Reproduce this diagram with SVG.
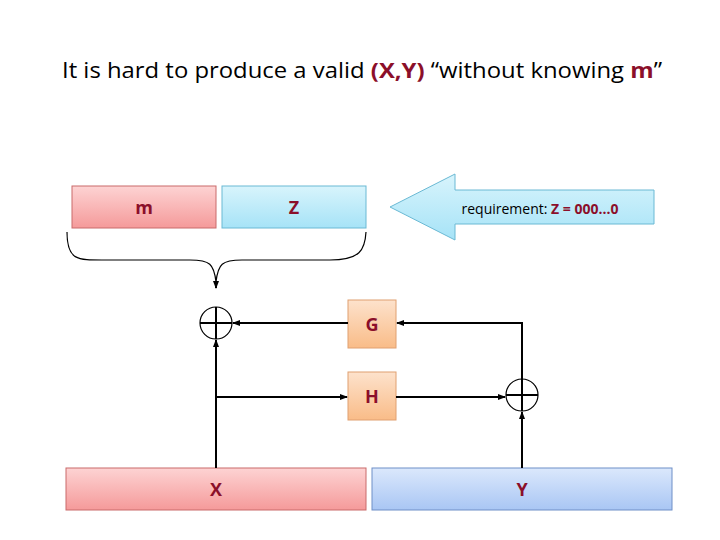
<svg xmlns="http://www.w3.org/2000/svg" width="720" height="540" viewBox="0 0 720 540">
<defs>
<linearGradient id="red" x1="0" y1="0" x2="0" y2="1"><stop offset="0" stop-color="#fdd3d3"/><stop offset="1" stop-color="#f59a9a"/></linearGradient>
<linearGradient id="cyan" x1="0" y1="0" x2="0" y2="1"><stop offset="0" stop-color="#d8f4fc"/><stop offset="1" stop-color="#a6e3f7"/></linearGradient>
<linearGradient id="org" x1="0" y1="0" x2="0" y2="1"><stop offset="0" stop-color="#fde2cc"/><stop offset="1" stop-color="#f9bc88"/></linearGradient>
<linearGradient id="blue" x1="0" y1="0" x2="0" y2="1"><stop offset="0" stop-color="#dbe8fc"/><stop offset="1" stop-color="#a9c6f4"/></linearGradient>
<marker id="ah" markerWidth="8" markerHeight="8" refX="7" refY="4" orient="auto" markerUnits="userSpaceOnUse"><path d="M0,1 L8,4 L0,7 z" fill="#000"/></marker>
</defs>
<style>
text{font-family:"Open Sans","Liberation Sans",sans-serif;}
.lbl{font-size:18px;font-weight:bold;fill:#8b0f2a;text-anchor:middle;}
.ln{stroke:#000;stroke-width:2;fill:none;}
.xor{stroke:#000;stroke-width:1.2;fill:#fff;}
</style>
<rect width="720" height="540" fill="#fff"/>
<text x="62" y="78" font-size="21" textLength="600" lengthAdjust="spacingAndGlyphs" fill="#000">It is hard to produce a valid <tspan font-weight="bold" fill="#8b0f2a">(X,Y)</tspan> “without knowing <tspan font-weight="bold" fill="#8b0f2a">m</tspan>”</text>
<g id="m"><rect x="72" y="186" width="144" height="42" fill="url(#red)" stroke="#c96a6a"/><text class="lbl" x="144" y="214">m</text></g>
<g id="Z"><rect x="222" y="186" width="144" height="42" fill="url(#cyan)" stroke="#6ab9d4"/><text class="lbl" x="294" y="214">Z</text></g>
<g id="req"><path d="M390,207 L455,174 L455,190 L654,190 L654,224 L455,224 L455,240 z" fill="url(#cyan)" stroke="#6ab9d4"/><text x="540" y="214" font-size="14" text-anchor="middle" fill="#000">requirement: <tspan font-weight="bold" fill="#8b0f2a">Z = 000…0</tspan></text></g>
<g id="G"><rect x="348" y="300" width="48" height="48" fill="url(#org)" stroke="#e0a070"/><text class="lbl" x="372" y="331">G</text></g>
<g id="H"><rect x="348" y="372" width="48" height="48" fill="url(#org)" stroke="#e0a070"/><text class="lbl" x="372" y="403">H</text></g>
<g id="X"><rect x="66" y="468" width="300" height="42" fill="url(#red)" stroke="#c96a6a"/><text class="lbl" x="216" y="496">X</text></g>
<g id="Y"><rect x="372" y="468" width="300" height="42" fill="url(#blue)" stroke="#6f8fc7"/><text class="lbl" x="522" y="496">Y</text></g>
<g id="xor1"><circle class="xor" cx="216" cy="323" r="16"/><path class="ln" d="M200,323 H232 M216,307 V339"/></g>
<g id="xor2"><circle class="xor" cx="522" cy="395" r="16"/><path class="ln" d="M506,395 H538 M522,379 V411"/></g>
<g id="connectors">
<path d="M67,232 C67,262 78,260 110,260 L190,260 C210,260 214,264 216,282 C218,264 222,260 242,260 L330,260 C360,260 365,250 366,232" fill="none" stroke="#000" stroke-width="1.2"/>
<path class="ln" d="M216,283 V288" marker-end="url(#ah)"/>
<path class="ln" d="M348,323 H233" marker-end="url(#ah)"/>
<path class="ln" d="M522,379 V323 H397" marker-end="url(#ah)"/>
<path class="ln" d="M216,397 H347" marker-end="url(#ah)"/>
<path class="ln" d="M396,397 H505" marker-end="url(#ah)"/>
<path class="ln" d="M216,468 V340" marker-end="url(#ah)"/>
<path class="ln" d="M522,468 V412" marker-end="url(#ah)"/>
</g>
</svg>
